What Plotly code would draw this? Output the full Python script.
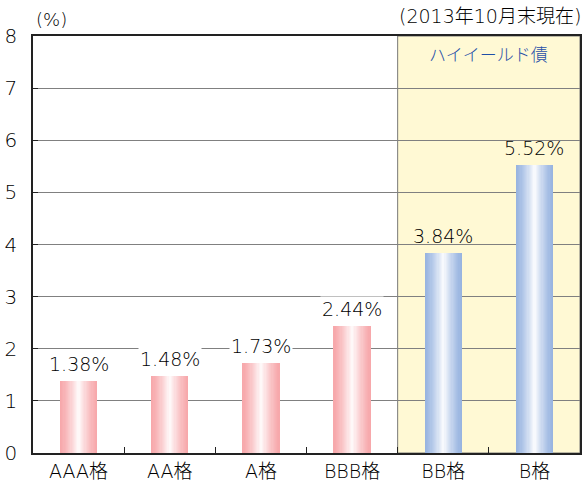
import plotly.graph_objects as go

categories = ["AAA格", "AA格", "A格", "BBB格", "BB格", "B格"]
values = [1.38, 1.48, 1.73, 2.44, 3.84, 5.52]
value_labels = ["1.38%", "1.48%", "1.73%", "2.44%", "3.84%", "5.52%"]
y_ticks = [0, 1, 2, 3, 4, 5, 6, 7, 8]

FONT = "DejaVu Sans, Noto Sans CJK JP, sans-serif"
TXT = "#000000"
W = 300
PINK = (247, 168, 171)
BLUE = (152, 180, 224)
WHITE = (255, 255, 255)
N_LAYERS = 16
BAR_W = 0.41

fig = go.Figure()

def mix(c, t):
    return "rgb(%d,%d,%d)" % tuple(round(a + (b - a) * t) for a, b in zip(c, WHITE))

groups = [(categories[:4], values[:4], PINK), (categories[4:], values[4:], BLUE)]
for cats, vals, col in groups:
    for i in range(N_LAYERS):
        frac = i / N_LAYERS
        w = BAR_W * (1 - frac)
        t = (frac ** 1.3)
        fig.add_trace(go.Bar(
            x=cats, y=vals, width=w,
            marker=dict(color=mix(col, t), line=dict(width=0)),
            hoverinfo="skip", showlegend=False,
        ))

# high-yield region
fig.add_shape(type="rect", xref="x", yref="y", x0=3.5, x1=5.5, y0=0, y1=8,
              fillcolor="#fff9d4", line=dict(color="#777777", width=1), layer="below")

for i, (c, v, lab) in enumerate(zip(categories, values, value_labels)):
    fig.add_annotation(x=c, y=v, text=lab, showarrow=False, yanchor="bottom", yshift=4,
                       font=dict(family=FONT, size=19, color=TXT, weight=W),
                       bgcolor="white" if i < 4 else "rgba(0,0,0,0)", borderpad=1)

fig.add_annotation(xref="paper", yref="paper", x=0.0, y=1.0, xanchor="left", yanchor="bottom",
                   xshift=1, yshift=4, text="(%)", showarrow=False,
                   font=dict(family=FONT, size=18, color=TXT, weight=W))
fig.add_annotation(xref="paper", yref="paper", x=1.0, y=1.0, xanchor="right", yanchor="bottom",
                   xshift=3, yshift=7, text="(2013年10月末現在)", showarrow=False,
                   font=dict(family=FONT, size=19, color=TXT, weight=W))
fig.add_annotation(xref="x", yref="y", x=4.5, y=8, yanchor="middle", yshift=-19,
                   text="ハイイールド債", showarrow=False,
                   font=dict(family=FONT, size=17, color="#1f4fa8", weight=W))

fig.update_layout(
    width=584, height=484,
    margin=dict(l=33, r=2, t=36, b=28),
    paper_bgcolor="white", plot_bgcolor="white",
    barmode="overlay", bargap=0,
    font=dict(family=FONT, size=17, color=TXT, weight=W),
)
fig.update_xaxes(
    type="category", range=[-0.5, 5.5],
    showline=True, linecolor="#222222", linewidth=1.5, mirror=True,
    ticks="inside", tickson="boundaries", ticklen=6, tickcolor="#222222",
    showgrid=False,
    tickfont=dict(family=FONT, size=19, color=TXT, weight=W),
)
fig.update_yaxes(
    range=[0, 8], tickvals=y_ticks,
    showline=True, linecolor="#222222", linewidth=1.5, mirror=True,
    ticks="inside", ticklen=5, tickcolor="#222222",
    showgrid=True, gridcolor="#808080", gridwidth=1,
    zeroline=False,
    tickfont=dict(family=FONT, size=20, color=TXT, weight=W),
    ticklabelstandoff=10,
)

fig.write_html("out.html", config={"displayModeBar": False},
               post_script="document.body.style.margin='0px';")
